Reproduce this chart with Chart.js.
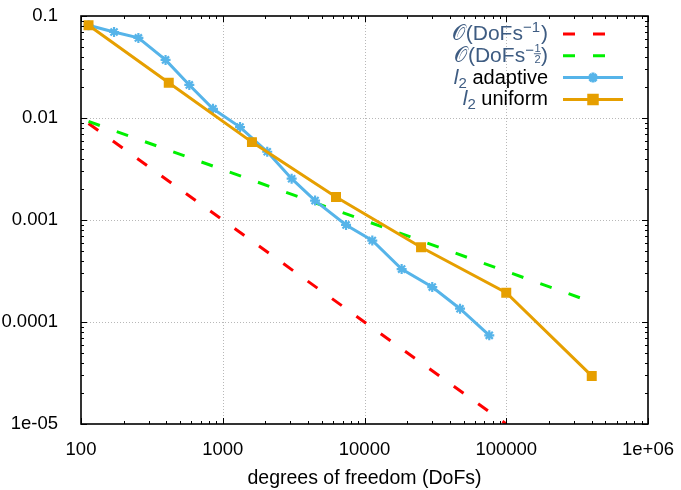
<!DOCTYPE html>
<html>
<head>
<meta charset="utf-8">
<script src="https://cdn.jsdelivr.net/npm/chart.js@4/dist/chart.umd.min.js"></script>
<style>
  html, body { margin: 0; padding: 0; background: #fff; }
  canvas { display: block; }
</style>
</head>
<body>
<canvas id="chart" width="681" height="490"></canvas>
<script>
// Error of the l2 norm against number of degrees of freedom
const uniformDofs  = [113, 416, 1607, 6295, 25060, 100000, 401000];
const uniformErr   = [0.0811, 0.0222, 0.0058, 0.00168, 0.00054, 0.000194, 0.0000296];

const adaptiveDofs = [113, 171, 254, 395, 581, 853, 1324, 2060, 3062, 4480, 7410, 11350, 18280, 30060, 47200, 75900];
const adaptiveErr  = [0.0811, 0.0697, 0.061, 0.0371, 0.0211, 0.0123, 0.00815, 0.00467, 0.00254, 0.00155, 0.000895, 0.000629, 0.00033, 0.00022, 0.000135, 0.000074];

// Reference slopes
const rateOneDofs  = [113, 100000];
const rateOneVals  = [0.00885, 0.00001];
const rateHalfDofs = [113, 401000];
const rateHalfVals = [0.00925, 0.000157];

// Axis decades and their labels
const xTickValues = [100, 1000, 10000, 100000, 1000000];
const xTickLabels = ['100', '1000', '10000', '100000', '1e+06'];
const yTickValues = [0.00001, 0.0001, 0.001, 0.01, 0.1];
const yTickLabels = ['1e-05', '0.0001', '0.001', '0.01', '0.1'];

const FONT = "'Liberation Sans', Arial, sans-serif";
const MATH = '#3e5c82';
const RED = '#ff0000', GREEN = '#00f000', BLUE = '#56b4e9', ORANGE = '#e69f00';

const pts = (xs, ys) => xs.map((v, i) => ({ x: v, y: ys[i] }));

// decades plus 2..9 multiples inside each decade
function withMinors(decades) {
  const out = [];
  decades.forEach((d, i) => {
    out.push({ value: d, major: true });
    if (i < decades.length - 1) for (let m = 2; m <= 9; m++) out.push({ value: d * m, major: false });
  });
  return out;
}
const xTicksAll = withMinors(xTickValues);
const yTicksAll = withMinors(yTickValues);

const framePlugin = {
  id: 'frame',
  beforeDatasetsDraw(chart) {
    const { ctx, chartArea: a, scales: { x, y } } = chart;
    ctx.save();
    ctx.strokeStyle = '#b8b8b8';
    ctx.lineWidth = 1;
    ctx.setLineDash([1, 2]);
    xTickValues.slice(1, -1).forEach(v => {
      const px = Math.round(x.getPixelForValue(v)) + 0.5;
      ctx.beginPath(); ctx.moveTo(px, a.top); ctx.lineTo(px, a.bottom); ctx.stroke();
    });
    yTickValues.slice(1, -1).forEach(v => {
      const py = Math.round(y.getPixelForValue(v)) + 0.5;
      ctx.beginPath(); ctx.moveTo(a.left, py); ctx.lineTo(a.right, py); ctx.stroke();
    });
    ctx.restore();
  },
  afterDatasetsDraw(chart) {
    const { ctx, chartArea: a, scales: { x, y } } = chart;
    ctx.save();
    ctx.strokeStyle = '#000';
    ctx.lineWidth = 1;
    ctx.setLineDash([]);
    xTicksAll.forEach(t => {
      const px = Math.round(x.getPixelForValue(t.value)) + 0.5;
      const len = t.major ? 6 : 3;
      ctx.beginPath();
      ctx.moveTo(px, a.bottom); ctx.lineTo(px, a.bottom - len);
      ctx.moveTo(px, a.top); ctx.lineTo(px, a.top + len);
      ctx.stroke();
    });
    yTicksAll.forEach(t => {
      const py = Math.round(y.getPixelForValue(t.value)) + 0.5;
      const len = t.major ? 6 : 3;
      ctx.beginPath();
      ctx.moveTo(a.left, py); ctx.lineTo(a.left + len, py);
      ctx.moveTo(a.right, py); ctx.lineTo(a.right - len, py);
      ctx.stroke();
    });
    ctx.lineWidth = 1.6;
    ctx.strokeRect(a.left, a.top, a.right - a.left, a.bottom - a.top);
    ctx.restore();
  }
};

// Legend with mathematical labels
function drawParts(ctx, parts, right, base) {
  const w = p => {
    ctx.font = p.font;
    if (p.frac) return Math.max(ctx.measureText(p.frac[0]).width, ctx.measureText(p.frac[1]).width) + 1;
    return ctx.measureText(p.t).width + (p.gap || 0);
  };
  const total = parts.reduce((s, p) => s + w(p), 0);
  let cx = right - total;
  parts.forEach(p => {
    const pw = w(p);
    ctx.font = p.font;
    ctx.fillStyle = p.color;
    ctx.textAlign = 'left';
    ctx.textBaseline = 'alphabetic';
    if (p.frac) {
      const mid = base + (p.dy || 0);
      ctx.textAlign = 'center';
      ctx.fillText(p.frac[0], cx + pw / 2, mid - 1.5);
      ctx.fillText(p.frac[1], cx + pw / 2, mid + 9);
      ctx.fillRect(cx, mid - 0.5, pw, 0.9);
    } else {
      ctx.fillText(p.t, cx, base + (p.dy || 0));
    }
    cx += pw;
  });
}

const legendRows = [
  { parts: [
      { t: '\u{1D4AA}', font: `21px ${FONT}`, color: MATH, gap: 1 },
      { t: '(DoFs', font: `21px ${FONT}`, color: MATH },
      { t: '\u22121', font: `15px ${FONT}`, color: MATH, dy: -8, gap: 1 },
      { t: ')', font: `21px ${FONT}`, color: MATH }
    ], color: RED, dash: [12, 18], marker: null },
  { parts: [
      { t: '\u{1D4AA}', font: `21px ${FONT}`, color: MATH, gap: 1 },
      { t: '(DoFs', font: `21px ${FONT}`, color: MATH },
      { t: '\u2212', font: `15px ${FONT}`, color: MATH, dy: -7 },
      { frac: ['1', '2'], font: `11px ${FONT}`, color: MATH, dy: -8 },
      { t: ')', font: `21px ${FONT}`, color: MATH }
    ], color: GREEN, dash: [12, 18], marker: null },
  { parts: [
      { t: 'l', font: `italic 21px ${FONT}`, color: MATH },
      { t: '2', font: `15px ${FONT}`, color: MATH, dy: 4 },
      { t: ' adaptive', font: `20px ${FONT}`, color: '#000' }
    ], color: BLUE, dash: [], marker: 'star' },
  { parts: [
      { t: 'l', font: `italic 21px ${FONT}`, color: MATH },
      { t: '2', font: `15px ${FONT}`, color: MATH, dy: 4 },
      { t: ' uniform', font: `20px ${FONT}`, color: '#000' }
    ], color: ORANGE, dash: [], marker: 'rect' }
];

const legendPlugin = {
  id: 'mathLegend',
  afterDraw(chart) {
    const ctx = chart.ctx;
    ctx.save();
    legendRows.forEach((row, i) => {
      const base = 40 + i * 21.8;
      drawParts(ctx, row.parts, 548, base);
      const ly = base - 6;
      ctx.strokeStyle = row.color;
      ctx.lineWidth = 3;
      ctx.setLineDash(row.dash);
      ctx.beginPath(); ctx.moveTo(563, ly); ctx.lineTo(623, ly); ctx.stroke();
      ctx.setLineDash([]);
      if (row.marker) {
        ctx.fillStyle = row.color;
        Chart.helpers.drawPoint(ctx, {
          pointStyle: row.marker,
          radius: row.marker === 'rect' ? 6 : 5,
          borderWidth: row.marker === 'rect' ? 1.5 : 2.2,
          rotation: 0
        }, 593, ly);
      }
    });
    ctx.restore();
  }
};

new Chart(document.getElementById('chart'), {
  type: 'line',
  data: {
    datasets: [
      { data: pts(rateOneDofs, rateOneVals), borderColor: RED, borderWidth: 3, borderDash: [12, 18],
        pointRadius: 0, order: 4 },
      { data: pts(rateHalfDofs, rateHalfVals), borderColor: GREEN, borderWidth: 3, borderDash: [12, 18],
        pointRadius: 0, order: 3 },
      { data: pts(adaptiveDofs, adaptiveErr), borderColor: BLUE, backgroundColor: BLUE, borderWidth: 3,
        pointStyle: 'star', pointRadius: 5, pointBorderWidth: 2.2, order: 2 },
      { data: pts(uniformDofs, uniformErr), borderColor: ORANGE, backgroundColor: ORANGE, borderWidth: 3,
        pointStyle: 'rect', pointRadius: 6, pointBorderWidth: 1.5, order: 1 }
    ]
  },
  options: {
    responsive: false,
    animation: false,
    events: [],
    layout: { padding: { top: 16, right: 33, left: 0, bottom: 0 } },
    plugins: { legend: { display: false }, tooltip: { enabled: false } },
    elements: { line: { tension: 0, fill: false } },
    scales: {
      x: {
        type: 'logarithmic', min: 100, max: 1000000,
        grid: { display: false }, border: { display: false },
        afterBuildTicks: s => { s.ticks = xTicksAll.map(t => ({ value: t.value })); },
        afterFit: s => { s.height = 66; s.paddingLeft = 0; s.paddingRight = 0; },
        ticks: {
          autoSkip: false, maxRotation: 0, minRotation: 0, padding: 7,
          color: '#000', font: { family: FONT, size: 18.5 },
          callback: v => { const i = xTickValues.indexOf(v); return i >= 0 ? xTickLabels[i] : ''; }
        },
        title: { display: true, text: 'degrees of freedom (DoFs)', color: '#000',
                 font: { family: FONT, size: 19.5 }, padding: { top: 0, bottom: 0 } }
      },
      y: {
        type: 'logarithmic', min: 0.00001, max: 0.1,
        grid: { display: false }, border: { display: false },
        afterBuildTicks: s => { s.ticks = yTicksAll.map(t => ({ value: t.value })); },
        afterFit: s => { s.width = 81; s.paddingTop = 0; s.paddingBottom = 0; },
        ticks: {
          autoSkip: false, padding: 15,
          color: '#000', font: { family: FONT, size: 18.5 },
          callback: v => { const i = yTickValues.indexOf(v); return i >= 0 ? yTickLabels[i] : ''; }
        }
      }
    }
  },
  plugins: [framePlugin, legendPlugin]
});
</script>
</body>
</html>
